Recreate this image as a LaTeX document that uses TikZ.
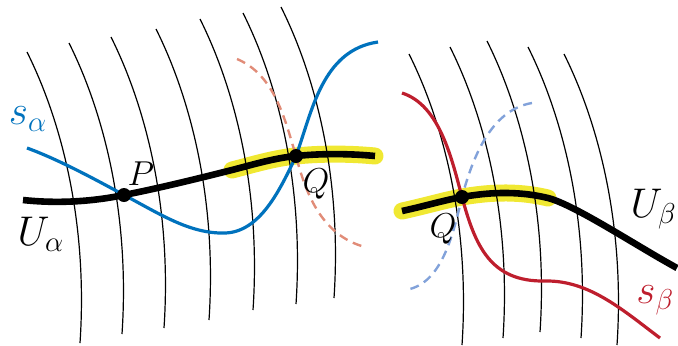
\documentclass[tikz,border=0pt]{standalone}
\usepackage{amsmath,amssymb}
\usepackage{xcolor}
\usepackage{tikz}
\usetikzlibrary{positioning}

\definecolor{secblue}{RGB}{0,114,189}
\definecolor{secred}{RGB}{190,30,45}
\definecolor{ghostred}{RGB}{225,140,120}
\definecolor{ghostblue}{RGB}{130,162,218}
\definecolor{hlyellow}{RGB}{240,232,50}

\begin{document}
\begin{tikzpicture}[
    x=0.5pt, y=-0.5pt,
    fiber/.style={black, line width=0.6pt},
    hilite/.style={hlyellow, line width=8.5pt, line cap=round},
    patch/.style={black, line width=3.3pt},
    sec/.style={line width=1.6pt},
    ghost/.style={line width=1.2pt, dash pattern=on 4.5pt off 3pt},
    pnt/.style={circle, fill=black, inner sep=0pt, minimum size=7pt},
    lbl/.style={inner sep=0pt}
]
\useasboundingbox (0,0) rectangle (678,345);

% Punkte
\coordinate (P) at (124,195);
\coordinate (Qa) at (296,156);
\coordinate (Qb) at (462,197);

% gelbe Hervorhebung
\draw[hilite] (232,170) .. controls (255,164) and (275,158) .. (Qa)
    .. controls (325,153) and (355,154) .. (375,156);
\draw[hilite] (402,211) .. controls (425,206) and (445,200) .. (Qb)
    .. controls (485,193) and (515,190) .. (548,198);

% Fasern
\foreach \x/\y in {27/52, 69/43, 111/37, 156/29, 200/19, 243/13, 281/7,
                   409/54, 450/47, 487/41, 528/47, 564/54} {
    \draw[fiber, shift={(\x,\y)}] (0,0) .. controls (35,70) and (61,172) .. (53,291);
}

% gestrichelte Schnitte
\draw[ghost, ghostred] (237,59) .. controls (275,75) and (285,120) .. (Qa)
    .. controls (305,190) and (320,235) .. (365,247);
\draw[ghost, ghostblue] (532,103) .. controls (490,110) and (472,160) .. (Qb)
    .. controls (452,240) and (440,285) .. (405,290);

% Schnitte s
\draw[sec, secblue] (27,148) .. controls (60,160) and (100,182) .. (P)
    .. controls (160,214) and (190,234) .. (225,233)
    .. controls (260,232) and (280,190) .. (Qa)
    .. controls (312,112) and (322,50) .. (378,42);
\draw[sec, secred] (402,93) .. controls (440,105) and (452,160) .. (Qb)
    .. controls (475,245) and (490,282) .. (545,281)
    .. controls (590,280) and (625,312) .. (660,338);

% Karten U
\draw[patch] (23,200) .. controls (60,204) and (95,201) .. (P)
    .. controls (160,188) and (200,178) .. (232,170)
    .. controls (255,164) and (275,158) .. (Qa)
    .. controls (325,153) and (355,154) .. (375,156);
\draw[patch] (402,211) .. controls (425,206) and (445,200) .. (Qb)
    .. controls (485,193) and (515,190) .. (548,198)
    .. controls (575,205) and (635,245) .. (677,268);

\node[pnt] (Pdot) at (P) {};
\node[pnt] (Qadot) at (Qa) {};
\node[pnt] (Qbdot) at (Qb) {};

% Beschriftung
\node[lbl, font=\huge, secblue] (salpha) at (28,119) {$s_\alpha$};
\node[lbl, font=\LARGE] (Plbl) at (141,174) {$P$};
\node[lbl, font=\LARGE] (Qalbl) at (316,184) {$Q$};
\node[lbl, font=\huge] (Ualpha) at (41,234) {$U_\alpha$};
\node[lbl, font=\LARGE] (Qblbl) at (443,229) {$Q$};
\node[lbl, font=\huge, anchor=east] (Ubeta) at (677,209) {$U_\beta$};
\node[lbl, font=\huge, secred, anchor=west] (sbeta) at (636,300) {$s_\beta$};

\end{tikzpicture}
\end{document}
